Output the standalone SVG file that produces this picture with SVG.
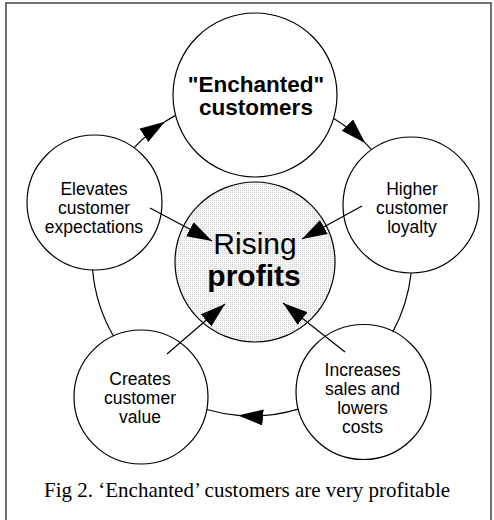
<svg xmlns="http://www.w3.org/2000/svg" width="494" height="520" viewBox="0 0 494 520">
  <style>
    .node { fill: #ffffff; stroke: #000000; stroke-width: 1.2; }
    .hub { fill: url(#stipple); stroke: #000000; stroke-width: 1.2; }
    .link { fill: none; stroke: #000000; stroke-width: 1.2; }
    .arrow { fill: none; stroke: #000000; stroke-width: 1.2; marker-end: url(#head); }
    .lbl { font-family: "Liberation Sans", Arial, Helvetica, sans-serif; font-size: 17.5px; fill: #000000; text-anchor: middle; }
    .big { font-family: "Liberation Sans", Arial, Helvetica, sans-serif; font-size: 22.5px; font-weight: bold; fill: #000000; text-anchor: middle; }
    .hubtxt { font-family: "Liberation Sans", Arial, Helvetica, sans-serif; font-size: 30px; fill: #000000; text-anchor: middle; }
    .caption { font-family: "Liberation Serif", "Times New Roman", serif; font-size: 21px; fill: #000000; }
  </style>
  <defs>
    <!-- fine grey dot screen for the central circle -->
    <pattern id="stipple" width="2" height="2" patternUnits="userSpaceOnUse">
      <rect width="2" height="2" fill="#f7f7f7"/>
      <rect width="1" height="1" fill="#d2d2d2"/>
    </pattern>
    <marker id="head" markerUnits="userSpaceOnUse" markerWidth="26" markerHeight="18" refX="25" refY="8" orient="auto">
      <path d="M0,0 L25,8 L0,16 Z" fill="#000000"/>
    </marker>
  </defs>

  <rect width="494" height="520" fill="#ffffff"/>
  <!-- frame -->
  <rect x="6" y="3" width="485" height="540" fill="none" stroke="#444444" stroke-width="1.5"/>

  <g id="node-enchanted">
    <circle class="node" cx="255" cy="95" r="82"/>
    <text class="big" x="256" y="92">"Enchanted"</text>
    <text class="big" x="256" y="115">customers</text>
  </g>

  <g id="node-elevates">
    <circle class="node" cx="94.5" cy="202.5" r="67.5"/>
    <text class="lbl" x="94" y="195">Elevates</text>
    <text class="lbl" x="94" y="214">customer</text>
    <text class="lbl" x="94" y="233">expectations</text>
  </g>

  <g id="node-loyalty">
    <circle class="node" cx="411" cy="205" r="68"/>
    <text class="lbl" x="412" y="195">Higher</text>
    <text class="lbl" x="412" y="214">customer</text>
    <text class="lbl" x="412" y="233">loyalty</text>
  </g>

  <g id="node-value">
    <circle class="node" cx="141" cy="397" r="67"/>
    <text class="lbl" x="140" y="385">Creates</text>
    <text class="lbl" x="140" y="404">customer</text>
    <text class="lbl" x="140" y="423">value</text>
  </g>

  <g id="node-sales">
    <circle class="node" cx="363.5" cy="392" r="67.5"/>
    <text class="lbl" x="362.5" y="376">Increases</text>
    <text class="lbl" x="362.5" y="395">sales and</text>
    <text class="lbl" x="362.5" y="414">lowers</text>
    <text class="lbl" x="362.5" y="433">costs</text>
  </g>

  <g id="node-profits">
    <circle class="hub" cx="255" cy="262" r="80"/>
    <text class="hubtxt" x="255" y="254">Rising</text>
    <text class="hubtxt" x="254" y="286" font-weight="bold">profits</text>
  </g>

  <g id="connectors">
    <!-- outer cycle, ring centred at (252,256), r = 160 -->
    <path class="arrow" d="M333.7,118.4 A160,160 0 0 1 365.1,142.9"/>
    <path class="link" d="M365.1,142.9 A160,160 0 0 1 371.5,149.6"/>
    <path class="link" d="M411.1,273 A160,160 0 0 1 392.7,332.1"/>
    <path class="arrow" d="M298.2,409.1 A160,160 0 0 1 238.1,415.4"/>
    <path class="link" d="M238.1,415.4 A160,160 0 0 1 206.8,409.5"/>
    <path class="link" d="M113.4,336 A160,160 0 0 1 92.6,270"/>
    <path class="arrow" d="M134.2,147.7 A160,160 0 0 1 164.9,121.8"/>
    <path class="link" d="M164.9,121.8 A160,160 0 0 1 175.6,115.4"/>

    <!-- spokes into the centre -->
    <line class="arrow" x1="150" y1="208" x2="212" y2="241"/>
    <line class="arrow" x1="362" y1="206" x2="302" y2="239"/>
    <line class="arrow" x1="167" y1="354" x2="225" y2="304"/>
    <line class="arrow" x1="345" y1="352" x2="283" y2="303"/>
  </g>

  <text class="caption" x="44" y="497">Fig 2. ‘Enchanted’ customers are very profitable</text>
</svg>
